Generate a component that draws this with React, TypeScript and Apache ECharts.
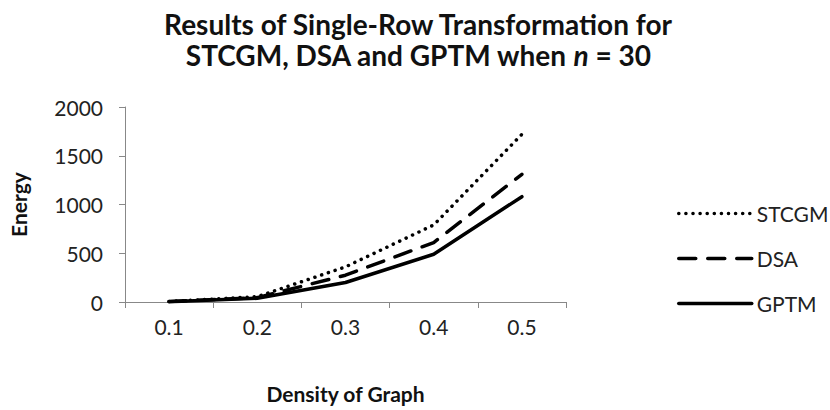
import React, { useEffect, useRef } from "react";
import * as echarts from "echarts";

const categories = ["0.1", "0.2", "0.3", "0.4", "0.5"];
const stcgm = [5, 55, 360, 790, 1720];
const dsa = [4, 45, 275, 610, 1310];
const gptm = [3, 38, 200, 490, 1080];

const FONT = "Lato, 'Open Sans', sans-serif";

export default function App() {
  const ref = useRef<HTMLDivElement>(null);
  useEffect(() => {
    document.body.style.margin = "0";
    const chart = echarts.init(ref.current!, null, { renderer: "svg" });
    chart.setOption({
      animation: false,
      backgroundColor: "#ffffff",
      textStyle: { fontFamily: FONT },
      title: {
        text: "Results of Single-Row Transformation for\nSTCGM, DSA and GPTM when {i|n} = 30",
        left: 413,
        textAlign: "center",
        top: 3,
        textStyle: {
          fontFamily: FONT,
          fontSize: 28,
          fontWeight: "bold",
          color: "#111",
          lineHeight: 31,
          rich: {
            i: { fontFamily: FONT, fontSize: 28, fontWeight: "bold", fontStyle: "italic", color: "#111", lineHeight: 31 },
          },
        },
      },
      grid: { left: 123, right: 264, top: 107, bottom: 108 },
      legend: {
        orient: "vertical",
        left: 672,
        top: 198,
        itemWidth: 73,
        itemHeight: 14,
        itemGap: 24,
        itemStyle: { opacity: 0 },
        lineStyle: { width: 3.5 },
        textStyle: { fontFamily: FONT, fontSize: 21, color: "#222" },
        data: ["STCGM", "DSA", "GPTM"],
      },
      xAxis: {
        type: "category",
        data: categories,
        boundaryGap: true,
        name: "Density of Graph",
        nameLocation: "middle",
        nameGap: 81,
        nameTextStyle: { fontFamily: FONT, fontSize: 21, fontWeight: "bold", color: "#111" },
        axisLine: { lineStyle: { color: "#888", width: 1 } },
        axisTick: { show: true, alignWithLabel: false, length: 6, lineStyle: { color: "#888" } },
        axisLabel: { fontFamily: FONT, fontSize: 21, color: "#222", margin: 14 },
        splitLine: { show: false },
      },
      yAxis: {
        type: "value",
        min: 0,
        max: 2000,
        interval: 500,
        name: "Energy",
        nameLocation: "middle",
        nameGap: 96,
        nameRotate: 90,
        nameTextStyle: { fontFamily: FONT, fontSize: 21, fontWeight: "bold", color: "#111" },
        axisLine: { show: true, lineStyle: { color: "#888", width: 1 } },
        axisTick: { show: true, length: 6, lineStyle: { color: "#888" } },
        axisLabel: { fontFamily: FONT, fontSize: 21, color: "#222", margin: 22, formatter: (v: number) => String(v) },
        splitLine: { show: false },
      },
      series: [
        {
          name: "STCGM",
          type: "line",
          data: stcgm,
          symbol: "none",
          lineStyle: { color: "#000", width: 3.5, type: [0.1, 7], cap: "round" },
          itemStyle: { color: "#000" },
        },
        {
          name: "DSA",
          type: "line",
          data: dsa,
          symbol: "none",
          lineStyle: { color: "#000", width: 3.5, type: [17, 12], cap: "round" },
          itemStyle: { color: "#000" },
        },
        {
          name: "GPTM",
          type: "line",
          data: gptm,
          symbol: "none",
          lineStyle: { color: "#000", width: 3.5, type: "solid", cap: "round" },
          itemStyle: { color: "#000" },
        },
      ],
    });
    return () => chart.dispose();
  }, []);
  return <div ref={ref} style={{ width: 830, height: 410, position: "absolute", left: 0, top: 0 }} />;
}
